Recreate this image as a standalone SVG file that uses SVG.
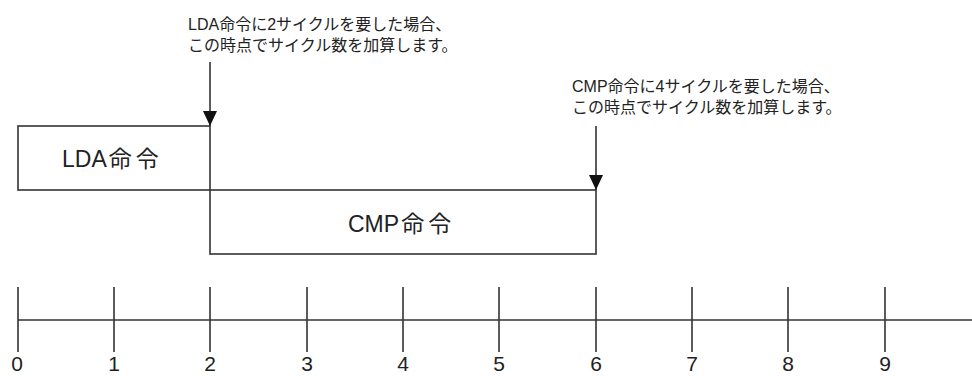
<svg xmlns="http://www.w3.org/2000/svg" width="972" height="376" viewBox="0 0 972 376">
<style>
.ln{stroke:#333;stroke-width:1.6;fill:none}
.box{stroke:#333;stroke-width:1.6;fill:#fff}
.t{font-family:"Liberation Sans","Noto Sans CJK JP",sans-serif;fill:#222}
.note{font-size:16px}
.lbl{font-size:23px}
.cj{letter-spacing:4px}
.num{font-size:21px;text-anchor:middle}
</style>
<rect width="972" height="376" fill="#fff"/>
<g id="lda">
<rect class="box" x="18" y="126" width="192" height="64"/>
<text class="t lbl" x="62" y="167">LDA<tspan class="cj" dx="2">命令</tspan></text>
</g>
<g id="cmp">
<rect class="box" x="210" y="190" width="386" height="64"/>
<text class="t lbl" x="348" y="232">CMP<tspan class="cj" dx="2">命令</tspan></text>
</g>
<g id="note1">
<text class="t note" x="188" y="30">LDA命令に2サイクルを要した場合、</text>
<text class="t note" x="188" y="51">この時点でサイクル数を加算します。</text>
</g>
<g id="note2">
<text class="t note" x="572" y="92">CMP命令に4サイクルを要した場合、</text>
<text class="t note" x="572" y="113">この時点でサイクル数を加算します。</text>
</g>
<g id="connectors">
<line class="ln" x1="210" y1="62" x2="210" y2="126"/>
<path d="M203,111 L217,111 L210,126 Z" fill="#111"/>
<line class="ln" x1="596" y1="126" x2="596" y2="190"/>
<path d="M589,175 L603,175 L596,190 Z" fill="#111"/>
</g>
<g id="axis">
<line class="ln" x1="18" y1="320" x2="972" y2="320"/>
<line class="ln" x1="18" y1="287" x2="18" y2="352"/>
<line class="ln" x1="114" y1="287" x2="114" y2="352"/>
<line class="ln" x1="210" y1="287" x2="210" y2="352"/>
<line class="ln" x1="307" y1="287" x2="307" y2="352"/>
<line class="ln" x1="403" y1="287" x2="403" y2="352"/>
<line class="ln" x1="499" y1="287" x2="499" y2="352"/>
<line class="ln" x1="596" y1="287" x2="596" y2="352"/>
<line class="ln" x1="692" y1="287" x2="692" y2="352"/>
<line class="ln" x1="788" y1="287" x2="788" y2="352"/>
<line class="ln" x1="885" y1="287" x2="885" y2="352"/>
<text class="t num" x="17" y="371">0</text>
<text class="t num" x="114" y="371">1</text>
<text class="t num" x="210" y="371">2</text>
<text class="t num" x="307" y="371">3</text>
<text class="t num" x="403" y="371">4</text>
<text class="t num" x="499" y="371">5</text>
<text class="t num" x="596" y="371">6</text>
<text class="t num" x="692" y="371">7</text>
<text class="t num" x="788" y="371">8</text>
<text class="t num" x="885" y="371">9</text>
</g>
</svg>
